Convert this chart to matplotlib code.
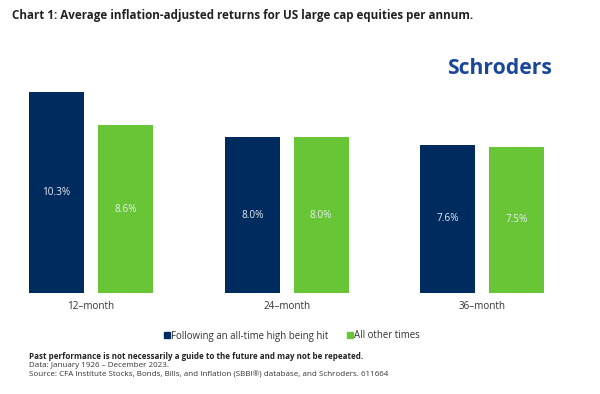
import matplotlib
matplotlib.use("Agg")
import matplotlib.pyplot as plt
from matplotlib.lines import Line2D
import numpy as np

categories = ["12\u2013month", "24\u2013month", "36\u2013month"]
series_names = ["Following an all-time high being hit", "All other times"]
after_high = [10.3, 8.0, 7.6]
other_times = [8.6, 8.0, 7.5]
colors = ["#002B5E", "#68C535"]

plt.rcParams['font.family'] = ['Open Sans', 'DejaVu Sans']

W, H = 600, 394
fig = plt.figure(figsize=(W / 100, H / 100), dpi=100)

# axes in pixel coordinates
ax_left, ax_right = 0, 587
ax_bottom, ax_top = 293, 78.5
ax = fig.add_axes([ax_left / W, (H - ax_bottom) / H,
                   (ax_right - ax_left) / W, (ax_bottom - ax_top) / H])
ax.set_xlim(-0.465, 2.535)
ax.set_ylim(0, 11)

x = np.arange(len(categories))
bw = 0.281
off = 0.176
b1 = ax.bar(x - off, after_high, bw, color=colors[0], linewidth=0)
b2 = ax.bar(x + off, other_times, bw, color=colors[1], linewidth=0)
for bars, vals in ((b1, after_high), (b2, other_times)):
    for r, v in zip(bars, vals):
        ax.text(r.get_x() + r.get_width() / 2, v / 2, f"{v:.1f}%",
                ha="center", va="center", color="#E8EEF5", fontsize=7.2)

ax.set_xticks(x)
ax.set_xticklabels(categories, fontsize=7.1, color="#333333")
ax.tick_params(axis="x", length=0, pad=6)
ax.set_yticks([])
for s in ax.spines.values():
    s.set_visible(False)

# legend
handles = [Line2D([0], [0], marker="s", color="none", markerfacecolor=c,
                  markeredgecolor=c, markersize=4.0) for c in colors]
fig.legend(handles, series_names, loc="center", bbox_to_anchor=(292 / W, 1 - 336 / H),
           ncol=2, frameon=False, fontsize=6.9, handlelength=0.5, handletextpad=0.2,
           columnspacing=2.0, labelcolor="#333333")

# title
fig.text(12 / W, 1 - 15 / H, "Chart 1: Average inflation-adjusted returns for US large cap equities per annum.",
         fontsize=8.4, fontweight="bold", color="#222222", va="center", ha="left")

# logo
fig.text(552 / W, 1 - 68 / H, "Schroders", fontsize=15.2, fontweight="bold",
         color="#1A4799", ha="right", va="center")

# footer
fig.text(29 / W, 1 - 356.5 / H,
         "Past performance is not necessarily a guide to the future and may not be repeated.",
         fontsize=5.8, fontweight="bold", color="#222222", va="center")
fig.text(29 / W, 1 - 365.5 / H, "Data: January 1926 \u2013 December 2023.",
         fontsize=5.8, color="#333333", va="center")
fig.text(29 / W, 1 - 374.5 / H,
         "Source: CFA Institute Stocks, Bonds, Bills, and Inflation (SBBI\u00ae) database, and Schroders. 611664",
         fontsize=5.8, color="#333333", va="center")

fig.savefig("out.png", dpi=100, facecolor="white")
